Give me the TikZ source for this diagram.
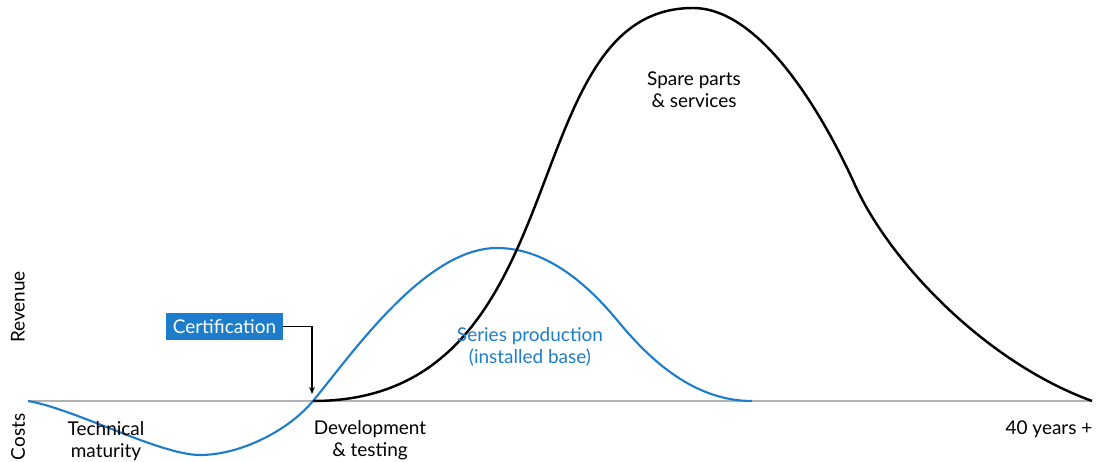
\documentclass[tikz,border=0pt]{standalone}
\usepackage{fontspec}
\setmainfont{Lato}
\usetikzlibrary{positioning,arrows.meta}
\definecolor{lifeblue}{HTML}{1E7DCB}

\begin{document}
\begin{tikzpicture}[x=0.02cm,y=-0.02cm,font=\fontsize{10.8}{12.3}\selectfont,>={Stealth[length=4pt,width=3.2pt]},
  lbl/.style={align=center,inner sep=0pt},
  axislbl/.style={lbl,rotate=90},
  tag/.style={fill=lifeblue,text=white,minimum width=2.34cm,minimum height=0.54cm,inner sep=1pt},
  costcurve/.style={lifeblue,line width=1.2pt},
  revcurve/.style={line width=1.4pt}]
\useasboundingbox (0,0) rectangle (1096,462);
% zero line
\coordinate (t0) at (28,401);
\coordinate (cross) at (313,401);
\coordinate (t1) at (1092,401);
\draw[gray!60,line width=0.7pt] (t0) -- (t1);
% series production
\draw[costcurve] (t0) .. controls (75,409) and (160,455) .. (200,455)
  .. controls (240,455) and (288,431) .. (cross)
  .. controls (352,354) and (425,248) .. (497,248)
  .. controls (550,248) and (592,290) .. (617,320)
  .. controls (645,354) and (690,401) .. (752,401);
% spare parts & services
\draw[revcurve] (cross) .. controls (583,401) and (510,8) .. (693,8)
  .. controls (760,8) and (822,112) .. (855,185)
  .. controls (890,262) and (985,362) .. (t1);
% labels
\node[axislbl] (revenue) at (18,307) {Revenue};
\node[axislbl] (costs) at (18,437) {Costs};
\node[lbl] (maturity) at (106,441) {Technical\\maturity};
\node[lbl] (devtest) at (370,440) {Development\\\& testing};
\node[lbl] (years) at (1049,429) {40 years +};
\node[lbl] (spare) at (694,90) {Spare parts\\\& services};
\node[lbl,text=lifeblue] (series) at (530,347) {Series production\\(installed base)};
\node[tag] (cert) at (224.5,326.5) {Certification};
\coordinate (certtip) at (312,394);
\draw[->,line width=0.6pt] (cert.east) -| (certtip);
\end{tikzpicture}
\end{document}
